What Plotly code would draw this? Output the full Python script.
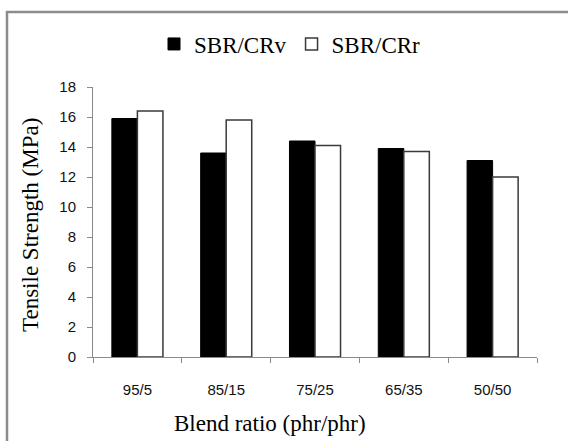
import plotly.graph_objects as go

categories = ["95/5", "85/15", "75/25", "65/35", "50/50"]
sbr_crv = [15.9, 13.6, 14.4, 13.9, 13.1]
sbr_crr = [16.4, 15.8, 14.1, 13.7, 12.0]
series_names = ["SBR/CRv", "SBR/CRr"]
y_ticks = [0, 2, 4, 6, 8, 10, 12, 14, 16, 18]
x_title = "Blend ratio (phr/phr)"
y_title = "Tensile Strength (MPa)"

W, H = 568, 441
L, R, T, B = 93, 31, 87, 84
pw, ph = W - L - R, H - T - B

def px_x(p):
    return (p - L) / pw

def px_y(p):
    return (H - B - p) / ph

serif = "Liberation Serif, Times New Roman, serif"
sans = "Liberation Sans, Arial, sans-serif"

fig = go.Figure()
fig.add_trace(go.Bar(
    x=categories, y=sbr_crv, name=series_names[0],
    marker=dict(color="black", line=dict(color="black", width=1)),
))
fig.add_trace(go.Bar(
    x=categories, y=sbr_crr, name=series_names[1],
    marker=dict(color="white", line=dict(color="#3a3a3a", width=1.5)),
))

axis_gray = "#8a8a8a"
fig.update_layout(
    width=W, height=H,
    margin=dict(l=L, r=R, t=T, b=B, pad=0),
    paper_bgcolor="white", plot_bgcolor="white",
    barmode="group", bargap=0.425, bargroupgap=0,
    showlegend=True,
    legend=dict(
        orientation="h", x=px_x(154), xanchor="left", y=px_y(44), yanchor="middle",
        font=dict(family=serif, size=23, color="black"),
        bgcolor="rgba(0,0,0,0)", itemclick=False, tracegroupgap=0,
    ),
    xaxis=dict(
        showline=True, linecolor=axis_gray, linewidth=1,
        ticks="outside", ticklen=5, tickcolor=axis_gray, tickwidth=1,
        tickson="boundaries", showgrid=False,
        tickfont=dict(family=sans, size=15, color="#111"),
        ticklabelstandoff=19,
    ),
    yaxis=dict(
        range=[0, 18], tickvals=y_ticks, showline=True, linecolor=axis_gray, linewidth=1,
        ticks="outside", ticklen=5, tickcolor=axis_gray, tickwidth=1,
        showgrid=False, zeroline=False,
        tickfont=dict(family=sans, size=15, color="#111"),
        ticklabelstandoff=8,
    ),
    annotations=[
        dict(text=x_title, xref="paper", yref="paper", x=px_x(270), y=px_y(423),
             xanchor="center", yanchor="middle", showarrow=False,
             font=dict(family=serif, size=23, color="black")),
        dict(text=y_title, xref="paper", yref="paper", x=px_x(30), y=px_y(225),
             xanchor="center", yanchor="middle", showarrow=False, textangle=-90,
             font=dict(family=serif, size=23, color="black")),
    ],
    shapes=[dict(
        type="rect", xref="paper", yref="paper",
        x0=px_x(7), x1=px_x(W + 20), y0=px_y(H + 20), y1=px_y(12),
        line=dict(color="#8c8c8c", width=2.5), fillcolor="rgba(0,0,0,0)", layer="below",
    )],
)

fig.write_html("out.html")
